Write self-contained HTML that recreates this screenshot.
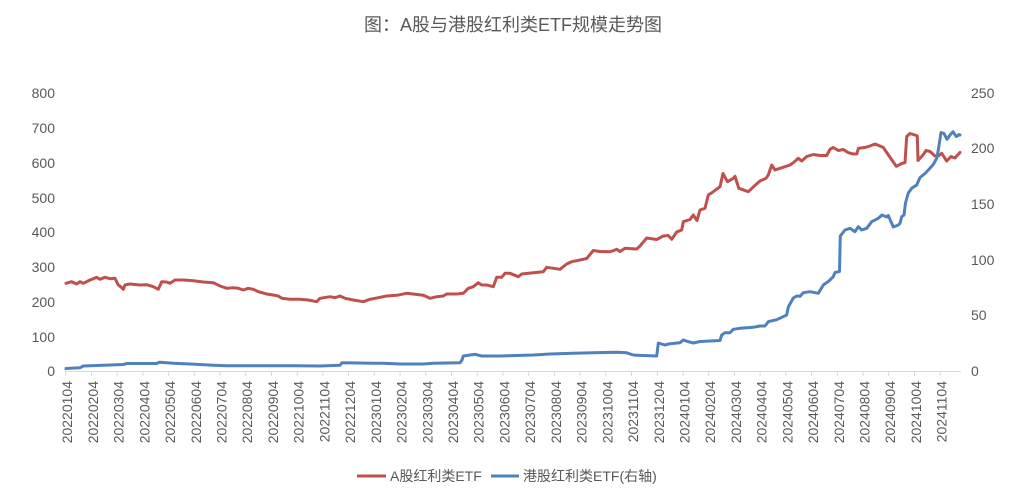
<!DOCTYPE html>
<html>
<head>
<meta charset="utf-8">
<style>
  html,body{margin:0;padding:0;background:#fff;}
  body{width:1027px;height:499px;overflow:hidden;}
  svg{display:block;}
  text{font-family:"Liberation Sans","Noto Sans CJK SC",sans-serif;fill:#595959;}
</style>
</head>
<body>
<svg width="1027" height="499" viewBox="0 0 1027 499" xmlns="http://www.w3.org/2000/svg">
  <!-- Title -->
  <text x="513" y="31" font-size="18" text-anchor="middle">图：A股与港股红利类ETF规模走势图</text>

  <!-- Left axis labels -->
  <g font-size="14" text-anchor="end">
    <text x="55" y="98">800</text>
    <text x="55" y="133">700</text>
    <text x="55" y="168">600</text>
    <text x="55" y="203">500</text>
    <text x="55" y="237">400</text>
    <text x="55" y="272">300</text>
    <text x="55" y="307">200</text>
    <text x="55" y="342">100</text>
    <text x="55" y="376">0</text>
  </g>
  <!-- Right axis labels -->
  <g font-size="14" text-anchor="start">
    <text x="971" y="98">250</text>
    <text x="971" y="153">200</text>
    <text x="971" y="209">150</text>
    <text x="971" y="265">100</text>
    <text x="971" y="320">50</text>
    <text x="971" y="376">0</text>
  </g>

  <!-- X axis line -->
  <line x1="65" y1="371.5" x2="961" y2="371.5" stroke="#D9D9D9" stroke-width="1"/>
  <g id="ticks" stroke="#D9D9D9" stroke-width="1"></g>
  <g id="xlabels" font-size="14" text-anchor="end"></g>

  <!-- Red series -->
  <polyline fill="none" stroke="#C0504D" stroke-width="3" stroke-linejoin="round" stroke-linecap="round" points="
66,283.3 71.7,281.7 76.7,284 80,281.7 83.3,283.3 90,280 96.7,277.3 100,279.3 105,277.3 110,278.7 115,278.3 118.3,285 121,287 123.3,289.3 125,285 130,284 140,285 146.7,284.7 153.3,286.7 158.3,289.3 161.7,281.7 166.7,282 170,283.3 175,280 183.3,280 193.3,280.7 203.3,282 213.3,282.7 220,286 226.7,288.3 233.3,287.7 238.3,288.3 243.3,290 248.3,288.3 253.3,289.3 258.3,291.7 266.7,294 273.3,295 278.3,296 281.7,298.3 290,299.3 300,299.3 308.3,300 316.7,301.7 320,298.3 330,296.7 335,297.7 340,296 345,298.3 353.3,300 363.3,301.7 370,299.3 380,297.3 386.7,296 396.7,295.3 406.7,293.3 415,294.3 423.3,295.3 430,298.3 436.7,296.7 443.3,296 446.7,294 456.7,294 463.3,293.3 468.3,288.3 473.3,286.7 478.3,282.7 481.7,285 486.7,285 493.3,286.7 496.7,277.3 501.7,277.3 505,273.3 510,273.3 518.3,276.7 521.7,274 533.3,272.7 543.3,271.7 546.7,267.3 553.3,268.3 560,269.3 566.7,264 571.7,261.7 576.7,260.7 586.7,258.5 593.3,250.5 600,251.5 610,251.7 613.3,250.7 616.7,249.3 620,251.5 625,248.3 636.7,249 640,246 646.7,238 656.7,239.5 663.3,236 668.3,235.5 671.7,239.3 676.7,232 681.7,230 683.3,221.7 690,219.5 693.3,215 697,220.5 700,210 705,208.3 708.3,195 713.3,191.7 720,186.7 723,173.5 727.5,181.7 733.3,178.3 735,176.3 738.8,188.3 748.3,191.7 754,186.3 760,181 766,178.3 768.3,175 771.7,165 775,170 780,168.3 790,165 793.3,162.7 798.3,158.3 801.7,161 806.7,156.5 813.3,154.5 820,155.5 826.7,155.5 830,149.3 833.3,147.5 838.3,150.5 843.3,149.5 848.3,152.7 853.3,154 856.7,154 858.5,148.3 865,147.5 870,146 875,144 880,146 883.3,147.5 886.7,152.5 893.3,162 896.3,166.3 901.7,163.5 905,162.7 906.7,136.5 910,133.5 915,135 917.3,136 918,160.5 923,155 926,150.5 930,151.5 935,156 938.3,156 941.7,153.3 946.7,161 951,156.5 955,158 956.7,156 960,152.5"/>

  <!-- Blue series -->
  <polyline fill="none" stroke="#4F81BD" stroke-width="3" stroke-linejoin="round" stroke-linecap="round" points="
66,368.5 80,367.8 83.3,366 96.7,365.5 110,365 123.3,364.5 126.7,363.5 156.7,363.5 159.3,362.2 166.7,362.7 173.3,363.3 190,364 213.3,365.2 226.7,365.7 266.7,365.7 293.3,365.7 320,366 340,365.2 342,362.7 373.3,363.3 383.3,363.3 400,364 423.3,364 433.3,363.3 460,362.7 462,360 463.3,356 470,355 475,354.3 481.7,356 500,356 533.3,355 550,354 573.3,353.3 593.3,352.7 616.7,352.2 626.7,352.8 633.3,355 636.7,355.2 656.7,356 658.3,343 665,345 670,343.7 680,342.7 683.3,340 688.3,341.7 693.3,343 700,341.5 720,340.5 721.7,335 725,332.7 730,332.7 733.3,329.3 740,328.3 753.3,327.3 760,326 765,326 768.3,321.7 776.7,319.7 786.7,315 788.3,307 793.3,298 796.7,296 800,296.3 803.3,292.7 810,291.7 818.3,293.3 823.3,285 828.3,281.5 833.3,276.7 835,272.5 839.5,271.5 840.3,236 845,230 850,228.3 855,231.7 858.3,226.7 861.7,230 866.7,228.3 871.7,221.7 878.3,218.3 882,215 886.7,217 888.3,215.5 893.3,227 898.3,225 900,223.3 901.7,216.7 904,215 905.5,203 908.3,193 912,188 916.7,185 920,177.5 925,173.5 928.3,170 933.3,164.5 936.7,158.3 938.3,150 941,132.5 944,133.5 947,139.3 950,135 953,131.7 956.3,136.5 959.3,134.5 960,135"/>

  <!-- Legend -->
  <line x1="357" y1="476" x2="386" y2="476" stroke="#C0504D" stroke-width="3"/>
  <text x="390" y="481" font-size="14">A股红利类ETF</text>
  <line x1="491" y1="476" x2="519" y2="476" stroke="#4F81BD" stroke-width="3"/>
  <text x="523" y="481" font-size="14">港股红利类ETF(右轴)</text>
</svg>
<script>
(function(){
  var ns="http://www.w3.org/2000/svg";
  var ticks=document.getElementById("ticks");
  var labels=document.getElementById("xlabels");
  var i=0;
  for(var y=2022;y<=2024;y++){
    for(var m=1;m<=12;m++){
      if(y===2024&&m>11)break;
      var x=65.7+i*25.72;
      var t=document.createElementNS(ns,"line");
      t.setAttribute("x1",x.toFixed(1));t.setAttribute("x2",x.toFixed(1));
      t.setAttribute("y1","371");t.setAttribute("y2","376");
      ticks.appendChild(t);
      var tx=document.createElementNS(ns,"text");
      tx.setAttribute("transform","translate("+(x+6.5).toFixed(1)+",381) rotate(-90)");
      tx.textContent=""+y+(m<10?"0"+m:m)+"04";
      labels.appendChild(tx);
      i++;
    }
  }
})();
</script>
</body>
</html>
